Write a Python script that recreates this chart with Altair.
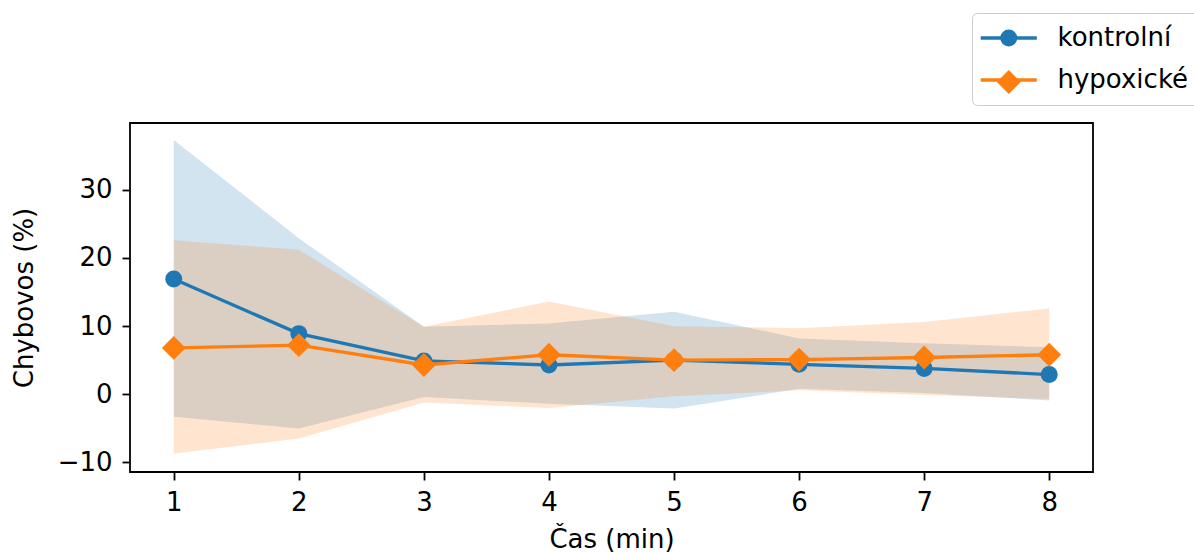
import altair as alt
import pandas as pd

# ---- data ----
times = [1, 2, 3, 4, 5, 6, 7, 8]
series_names = ["kontrolní", "hypoxické"]

ctrl_mean = [16.9, 8.9, 4.9, 4.3, 5.0, 4.4, 3.8, 2.9]
ctrl_hi = [37.3, 22.9, 9.9, 10.4, 12.1, 8.2, 7.5, 6.9]
ctrl_lo = [-3.3, -5.0, -0.4, -1.4, -2.1, 0.8, 0.2, -0.9]

hyp_mean = [6.8, 7.2, 4.3, 5.8, 5.0, 5.1, 5.4, 5.8]
hyp_hi = [22.6, 21.2, 9.9, 13.6, 10.0, 9.7, 10.6, 12.6]
hyp_lo = [-8.7, -6.5, -1.2, -2.0, -0.3, 0.6, -0.1, -0.7]

x_ticks = [1, 2, 3, 4, 5, 6, 7, 8]
y_ticks = [-10, 0, 10, 20, 30]

colors = ["#1f77b4", "#ff7f0e"]

rows = []
for name, m, lo, hi in [
    (series_names[0], ctrl_mean, ctrl_lo, ctrl_hi),
    (series_names[1], hyp_mean, hyp_lo, hyp_hi),
]:
    for t, a, b, c in zip(times, m, lo, hi):
        rows.append({"t": t, "series": name, "mean": a, "lo": b, "hi": c})
df = pd.DataFrame(rows)

FONT = "DejaVu Sans"
FS = 26

x_enc = alt.X(
    "t:Q",
    scale=alt.Scale(domain=[0.65, 8.35], nice=False, zero=False),
    axis=alt.Axis(values=x_ticks, title="Čas (min)", format="d",
                  labelBaseline="alphabetic", labelPadding=30,
                  titleY=75, titleBaseline="alphabetic"),
)
y_scale = alt.Scale(domain=[-11.4, 39.8], nice=False, zero=False)
y_axis = alt.Axis(values=y_ticks, title="Chybovos (%)", labelPadding=10,
                  titleX=-106, titleBaseline="middle")

color_scale = alt.Scale(domain=series_names, range=colors)

# legend geometry shared by the two overlapping legends
LEG = dict(orient="none", legendX=842, legendY=-110, title=None,
           symbolSize=289, symbolOffset=11.75, labelOffset=35.75,
           labelFont=FONT, labelFontSize=FS, labelColor="black",
           rowPadding=16, padding=12)

base = alt.Chart(df)

bands = base.mark_area(opacity=0.2).encode(
    x=x_enc,
    y=alt.Y("lo:Q", scale=y_scale, axis=y_axis),
    y2="hi:Q",
    color=alt.Color("series:N", scale=color_scale, legend=None),
)

lines = base.mark_line(strokeWidth=3.3).encode(
    x=x_enc,
    y=alt.Y("mean:Q", scale=y_scale, axis=y_axis),
    color=alt.Color(
        "series:N", scale=color_scale,
        legend=alt.Legend(symbolType="M-3.3,0L3.3,0", symbolStrokeWidth=3.3,
                          strokeColor="#cccccc", cornerRadius=5, **LEG),
    ),
)

diamond = "M-1.4,0L0,-1.4L1.4,0L0,1.4Z"
pt_legend = alt.Legend(symbolOpacity=1, labelOpacity=0, **LEG)
points = base.mark_point(filled=True, opacity=1, size=289).encode(
    x=x_enc,
    y=alt.Y("mean:Q", scale=y_scale, axis=y_axis),
    color=alt.Color("series:N", scale=color_scale, legend=pt_legend),
    shape=alt.Shape("series:N",
                    scale=alt.Scale(domain=series_names, range=["circle", diamond]),
                    legend=pt_legend),
)

chart = (
    alt.layer(bands, lines, points)
    .resolve_scale(color="independent", shape="independent")
    .properties(
        width=963, height=349,
        autosize=alt.AutoSizeParams(type="none"),
        padding={"left": 130, "top": 123, "right": 101, "bottom": 80},
        background="white",
    )
    .configure_view(stroke="black", strokeWidth=1.8)
    .configure_axis(
        grid=False, domain=False,
        labelFont=FONT, labelFontSize=FS, labelColor="black",
        titleFont=FONT, titleFontSize=FS, titleColor="black", titleFontWeight="normal",
        tickColor="black", tickWidth=1.8, tickSize=8,
    )
)

chart.save("out.html", embed_options={"renderer": "svg", "actions": False})
